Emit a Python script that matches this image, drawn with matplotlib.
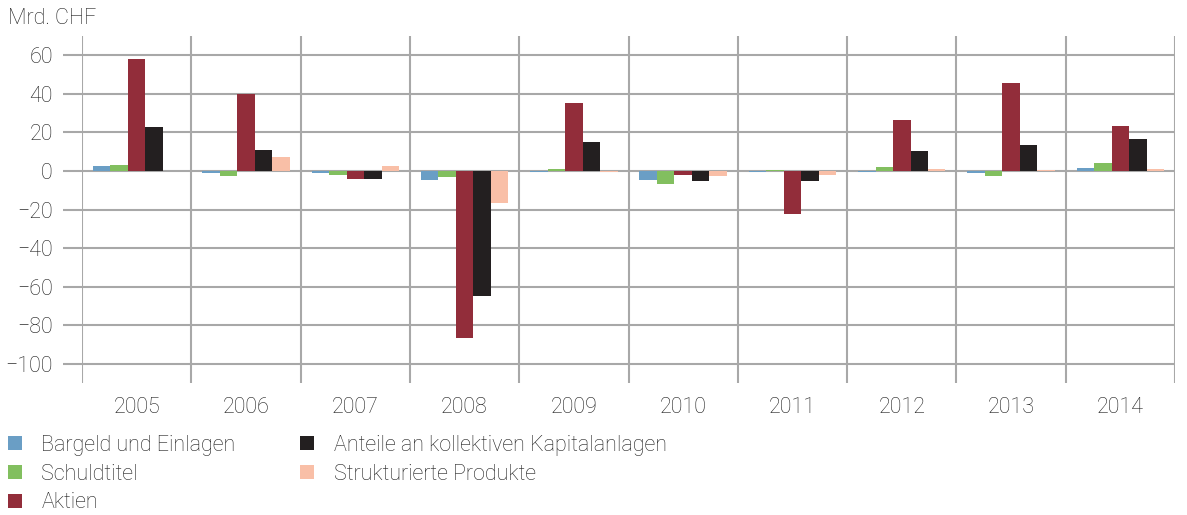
import matplotlib.pyplot as plt
import numpy as np
from matplotlib.patches import Patch

# Daten (Mrd. CHF)
jahre = ['2005', '2006', '2007', '2008', '2009', '2010', '2011', '2012', '2013', '2014']
bargeld = [2.6, -0.9, -1.0, -4.7, -0.4, -4.7, -0.4, -0.3, -1.0, 1.6]
schuldtitel = [3.1, -2.4, -1.9, -3.1, 1.0, -6.8, 0.5, 2.0, -2.6, 4.2]
aktien = [58.0, 39.7, -4.0, -86.5, 35.0, -1.9, -22.5, 26.6, 45.4, 23.5]
anteile = [23.0, 11.0, -4.0, -65.0, 15.1, -5.2, -5.2, 10.4, 13.6, 16.7]
strukturiert = [0.0, 7.3, 2.6, -16.5, -0.3, -2.6, -2.1, 1.0, 0.5, 1.0]

serien = [
    ('Bargeld und Einlagen', bargeld, '#6a9ec5'),
    ('Schuldtitel', schuldtitel, '#82bf5f'),
    ('Aktien', aktien, '#922d3a'),
    ('Anteile an kollektiven Kapitalanlagen', anteile, '#231f20'),
    ('Strukturierte Produkte', strukturiert, '#f9bfa7'),
]

plt.rcParams['font.family'] = ['Roboto', 'DejaVu Sans']
plt.rcParams['font.weight'] = 'light'
textfarbe = '#1e1e1e'
gitter = '#a8a8a8'
fs = 15.5

fig = plt.figure(figsize=(11.87, 5.15), dpi=100)
ax = fig.add_axes([0.0691, 0.2563, 0.9208, 0.6738])

x = np.arange(len(jahre))
b = 0.16
for i, (name, werte, farbe) in enumerate(serien):
    ax.bar(x + (i - 2) * b, werte, width=b, color=farbe, zorder=3)

ax.set_xlim(-0.5, len(jahre) - 0.5)
ax.set_ylim(-110, 70)
ax.set_yticks(np.arange(-100, 61, 20))
ax.set_xticks(x)
ax.set_xticklabels(jahre)
ax.set_xticks(np.arange(-0.5, len(jahre), 1), minor=True)

for s in ax.spines.values():
    s.set_visible(False)

ax.grid(axis='y', which='major', color=gitter, linewidth=1.5, zorder=1)
ax.grid(axis='x', which='minor', color=gitter, linewidth=1.5, zorder=1)
ax.tick_params(axis='y', length=14, width=1.5, color=gitter, pad=7,
               labelsize=fs, labelcolor=textfarbe)
ax.tick_params(axis='x', which='major', length=0, pad=10,
               labelsize=fs, labelcolor=textfarbe)
ax.tick_params(axis='x', which='minor', length=0)

fig.text(0.007, 0.965, 'Mrd. CHF', fontsize=fs, color=textfarbe, va='center')

handles = [Patch(facecolor=f, edgecolor='none', label=n) for n, _, f in serien]
fig.legend(handles=handles, loc='upper left', bbox_to_anchor=(-0.006, 0.185),
           ncol=2, frameon=False, fontsize=fs, labelcolor=textfarbe,
           handlelength=0.65, handleheight=0.65, handletextpad=0.9,
           columnspacing=3.0, labelspacing=0.36, borderaxespad=0.3)

fig.savefig('out.png', dpi=100)
